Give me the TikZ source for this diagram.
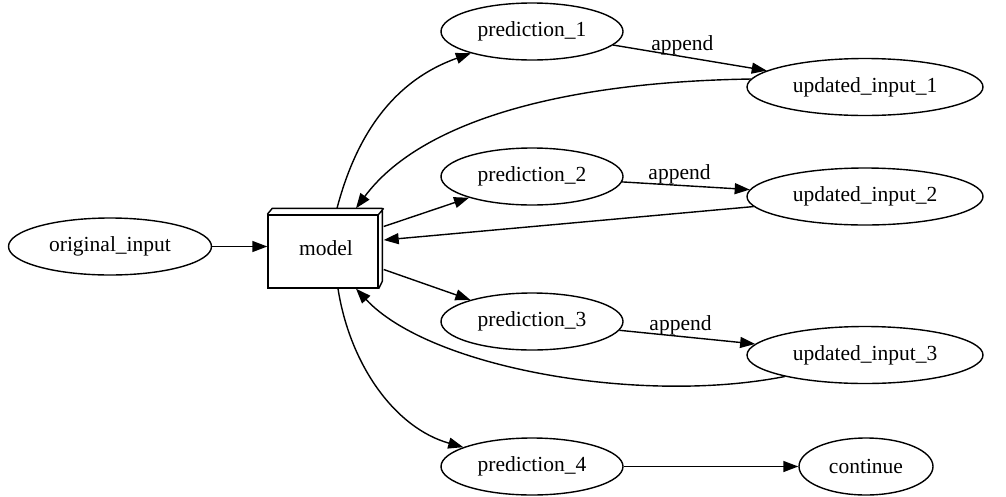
\documentclass[tikz,border=0pt]{standalone}
\usepackage{fontspec}
\setmainfont{Liberation Serif}
\usetikzlibrary{arrows.meta,calc,shapes.geometric}
\begin{document}
\begin{tikzpicture}[x=1pt,y=-1pt,
  every node/.style={font=\fontsize{21.5}{24}\selectfont},
  ell/.style={draw,ellipse,line width=1.4pt,inner sep=0pt,minimum height=57pt},
  arr/.style={line width=1.4pt,-{Triangle[length=15pt,width=11pt]}},
  lbl/.style={above,inner sep=1pt}]
\useasboundingbox (0,0) rectangle (1006,496);
% nodes
\node[ell,minimum width=203pt] (orig) at (110,246.5) {original\_input};
\node[draw,rectangle,line width=1.4pt,minimum width=110pt,minimum height=73pt,inner sep=0pt] (model) at (323,251.5) {};
\node at (326,248) {model};
\draw[line width=1.4pt,line join=round] (model.north west) -- ++(5,-6) -- ++(110,0) -- ++(0,73) -- (model.south east)
  (model.north east) -- ++(5,-6);
\node[ell,minimum width=182pt] (p1) at (532,31.5) {prediction\_1};
\node[ell,minimum width=182pt] (p2) at (532,176.5) {prediction\_2};
\node[ell,minimum width=182pt] (p3) at (532,321.5) {prediction\_3};
\node[ell,minimum width=182pt] (p4) at (532,466.5) {prediction\_4};
\node[ell,minimum width=236pt] (u1) at (865,87) {updated\_input\_1};
\node[ell,minimum width=236pt] (u2) at (865,196.5) {updated\_input\_2};
\node[ell,minimum width=236pt] (u3) at (865,355) {updated\_input\_3};
\node[ell,minimum width=134pt] (cont) at (866,466.5) {continue};
% edges
\draw[arr] (orig) -- (orig -| model.west);
\draw[arr] ($(model.north)+(14,-6)$) .. controls (355,140) and (390,82) .. (p1);
\draw[arr] (u1.176) .. controls (560,82) and (420,122) .. ($(model.north)+(33,-6)$);
\draw[arr] ($(model.east)+(5,-25)$) -- (p2);
\draw[arr] (u2) -- ($(model.east)+(5,-11.5)$);
\draw[arr] ($(model.east)+(5,18)$) -- (p3);
\draw[arr] (u3.195) .. controls (640,405) and (430,368) .. ($(model.south)+(33,0)$);
\draw[arr] ($(model.south)+(15,0)$) .. controls (350,365) and (395,428) .. (p4);
\draw[arr] (p1) -- node[lbl,pos=0.45] {append} (u1);
\draw[arr] (p2) -- node[lbl,pos=0.45] {append} (u2);
\draw[arr] (p3) -- node[lbl,pos=0.45] {append} (u3);
\draw[arr] (p4) -- (cont);
\end{tikzpicture}
\end{document}
